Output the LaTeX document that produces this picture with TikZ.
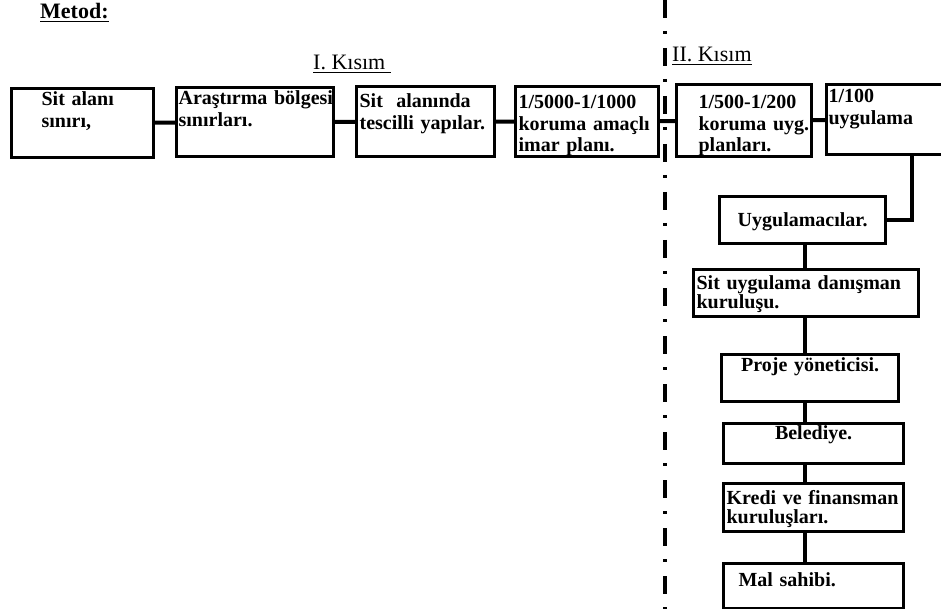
\documentclass[tikz,border=0pt]{standalone}
\usepackage{fontspec}
\setmainfont{Liberation Serif}

\begin{document}
\begin{tikzpicture}[x=1pt,y=-1pt]
    \tikzset{box/.style= {draw, rectangle
    , line width=3.2pt
    , anchor=north west
    , inner ysep=0pt
    , align=left
    , font=\bfseries\fontsize{20}{21.5}\selectfont
    , execute at begin node={\hyphenpenalty=10000 \exhyphenpenalty=10000 }
      }
    , tight/.style={font=\bfseries\fontsize{20}{19}\selectfont}
    , link/.style={draw, line width=4pt}
    , heading/.style={anchor=base west, inner sep=0pt
    , font=\fontsize{22}{24}\selectfont}
    }

\clip (0,0) rectangle (941,609);

\node [heading, font=\bfseries\fontsize{22}{24}\selectfont] (metod) at (40,19) {\underline{Metod:}};
\node [heading] (kisim1) at (313,70) {\underline{I. Kısım\ }};
\node [heading] (kisim2) at (672,62) {\underline{II. Kısım}};

% I. Kisim
\node [box, inner xsep=30pt, text width=82pt, text height=17pt, text depth=52pt] (sitalani) at (10,87) {Sit alanı\\sınırı,};
\node [box, inner xsep=2pt, text width=153pt, text height=17pt, text depth=52pt] (arastirma) at (175,86) {Araştırma~bölgesi\\sınırları.};
\node [box, inner xsep=3pt, text width=132pt, text height=21pt, text depth=49pt] (tescilli) at (355,85) {Sit~~alanında\\tescilli~yapılar.};
\node [box, inner xsep=3pt, text width=137pt, text height=22pt, text depth=48pt] (imarplani) at (514,85) {1/5000-1/1000\\koruma~amaçlı\\imar~planı.};

% II. Kisim
\node [box, inner xsep=22pt, text width=91pt, text height=24pt, text depth=48pt] (korumaplani) at (675,83) {1/500-1/200\\koruma~uyg.\\planları.};
\node [box, inner xsep=2pt, text width=166pt, text height=18pt, text depth=52pt] (uygulamaplani) at (825,83) {1/100\\uygulama};

\node [box, align=center, inner xsep=0pt, text width=166pt, text height=30pt, text depth=17pt] (uygulamacilar) at (718,195) {Uygulamacılar.};
\node [box, tight, inner xsep=3pt, text width=219pt, text height=20pt, text depth=27pt] (danisman) at (692,268) {Sit~uygulama~danışman\\kuruluşu.};
\node [box, align=center, inner xsep=0pt, text width=177pt, text height=17pt, text depth=30pt] (proje) at (720,353) {Proje~yöneticisi.};
\node [box, align=center, inner xsep=0pt, text width=180pt, text height=16pt, text depth=24pt] (belediye) at (722,422) {Belediye.};
\node [box, tight, inner xsep=3pt, text width=174pt, text height=21pt, text depth=27pt] (kredi) at (722,482) {Kredi~ve~finansman\\kuruluşları.};
\node [box, inner xsep=15pt, text width=150pt, text height=23pt, text depth=22pt] (malsahibi) at (722,562) {Mal~sahibi.};

 \path[link]
  (sitalani) -- (arastirma) -- (tescilli) -- (imarplani) -- (korumaplani) -- (uygulamaplani);
 \path[link] (uygulamaplani.south) |- (uygulamacilar.east);

\coordinate (spine) at (805,0);
\foreach \a/\b in {uygulamacilar/danisman, danisman/proje, proje/belediye, belediye/kredi, kredi/malsahibi}
  \path[link] (\a.south -| spine) -- (\b.north -| spine);

% Kisim siniri
\draw [line width=3.2pt, dash pattern=on 18pt off 13pt on 3pt off 14pt] (665,0) -- (665,609);
\end{tikzpicture}
\end{document}
